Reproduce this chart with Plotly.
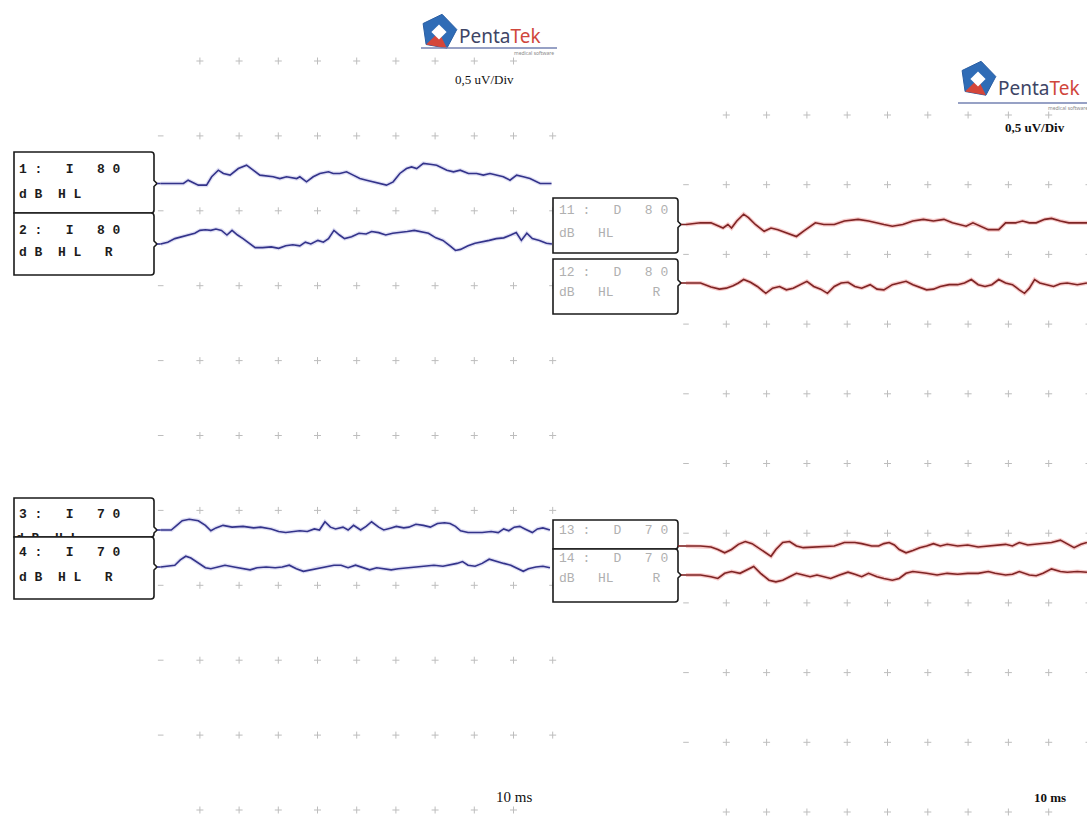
import math
import plotly.graph_objects as go

# ------------------------------------------------------------------
# DATA  (time in ms, amplitude in uV)
# ------------------------------------------------------------------
# Left ear (I) 80 dB HL
ch1_ms = [0, 0.58, 0.70, 0.96, 1.17, 1.30, 1.47, 1.60, 1.77, 1.98,
          2.19, 2.36, 2.53, 2.87, 3.04, 3.21, 3.47, 3.55, 3.72, 3.89,
          4.06, 4.28, 4.40, 4.57, 4.74, 4.91, 5.08, 5.25, 5.42, 5.59,
          5.76, 5.93, 6.10, 6.27, 6.40, 6.53, 6.70, 6.87, 7.04, 7.30,
          7.47, 7.64, 7.85, 8.06, 8.23, 8.40, 8.57, 8.74, 8.91, 9.08,
          9.25, 9.42, 9.68, 9.97]
ch1_uv = [0.000, 0.000, 0.022, -0.011, -0.011, 0.045, 0.089, 0.067, 0.056, 0.100,
          0.122, 0.089, 0.056, 0.045, 0.033, 0.045, 0.033, 0.045, 0.011, 0.045,
          0.067, 0.078, 0.067, 0.067, 0.078, 0.056, 0.033, 0.022, 0.011, 0.000,
          -0.011, 0.011, 0.067, 0.100, 0.111, 0.100, 0.134, 0.129, 0.122, 0.089,
          0.078, 0.089, 0.067, 0.067, 0.056, 0.067, 0.056, 0.045, 0.022, 0.056,
          0.045, 0.033, 0.000, 0.000]

ch2_ms = [0, 0.18, 0.36, 0.55, 0.73, 0.87, 1.00, 1.14, 1.28, 1.41,
          1.55, 1.69, 1.82, 1.96, 2.10, 2.28, 2.41, 2.60, 2.82, 3.01,
          3.19, 3.37, 3.55, 3.69, 3.83, 4.01, 4.15, 4.28, 4.42, 4.56,
          4.69, 4.87, 5.06, 5.24, 5.38, 5.56, 5.74, 5.92, 6.10, 6.29,
          6.47, 6.65, 6.83, 7.02, 7.20, 7.38, 7.52, 7.65, 7.84, 8.02,
          8.20, 8.38, 8.56, 8.75, 8.93, 9.07, 9.20, 9.34, 9.48, 9.66,
          9.84, 9.98]
ch2_uv = [0.000, 0.012, 0.036, 0.048, 0.060, 0.072, 0.091, 0.095, 0.091, 0.100,
          0.091, 0.060, 0.091, 0.060, 0.036, 0.000, -0.024, -0.024, -0.019, -0.029,
          -0.012, -0.005, -0.012, 0.012, 0.000, 0.024, 0.012, 0.036, 0.091, 0.060,
          0.036, 0.048, 0.072, 0.067, 0.083, 0.076, 0.060, 0.072, 0.076, 0.083,
          0.091, 0.083, 0.072, 0.041, 0.024, -0.012, -0.043, -0.036, -0.012, 0.005,
          0.012, 0.024, 0.036, 0.041, 0.060, 0.076, 0.024, 0.072, 0.036, 0.024,
          0.005, 0.000]

# Left ear (I) 70 dB HL
ch3_ms = [0, 0.27, 0.41, 0.55, 0.73, 0.96, 1.14, 1.28, 1.41, 1.59,
          1.82, 2.10, 2.37, 2.55, 2.82, 3.01, 3.19, 3.37, 3.55, 3.74,
          3.92, 4.05, 4.19, 4.33, 4.46, 4.65, 4.78, 4.92, 5.10, 5.24,
          5.38, 5.56, 5.69, 5.88, 6.01, 6.20, 6.33, 6.51, 6.70, 6.88,
          7.06, 7.24, 7.38, 7.52, 7.65, 7.84, 8.02, 8.20, 8.43, 8.61,
          8.75, 8.88, 9.02, 9.16, 9.29, 9.48, 9.61, 9.75, 9.93]
ch3_uv = [0.000, 0.000, 0.031, 0.062, 0.072, 0.062, 0.031, -0.005, 0.014, 0.031,
          0.019, 0.024, 0.014, 0.019, 0.007, -0.010, -0.017, -0.010, -0.005, -0.010,
          0.007, 0.000, 0.055, 0.019, 0.007, 0.019, 0.000, 0.031, 0.000, 0.024,
          0.055, 0.019, 0.000, 0.014, 0.024, 0.014, 0.019, 0.038, 0.031, 0.019,
          0.043, 0.048, 0.043, 0.024, -0.005, -0.017, -0.017, -0.017, -0.010, -0.017,
          0.007, -0.005, 0.019, 0.024, 0.007, -0.017, 0.007, 0.014, 0.000]

ch4_ms = [0, 0.36, 0.50, 0.64, 0.77, 0.96, 1.14, 1.28, 1.46, 1.64,
          1.87, 2.10, 2.28, 2.46, 2.69, 2.92, 3.10, 3.28, 3.46, 3.64,
          3.83, 4.01, 4.19, 4.42, 4.60, 4.78, 4.97, 5.15, 5.33, 5.51,
          5.69, 5.88, 6.06, 6.29, 6.51, 6.74, 6.97, 7.20, 7.38, 7.56,
          7.70, 7.84, 8.02, 8.20, 8.38, 8.56, 8.75, 8.93, 9.11, 9.25,
          9.38, 9.57, 9.75, 9.93]
ch4_uv = [0.000, 0.012, 0.048, 0.072, 0.060, 0.024, -0.005, -0.012, 0.000, 0.012,
          0.000, -0.012, -0.019, -0.005, 0.000, -0.005, 0.000, 0.012, -0.012, -0.029,
          -0.019, -0.005, 0.000, 0.012, 0.012, -0.005, 0.012, -0.005, -0.019, -0.005,
          -0.012, -0.019, -0.012, -0.005, 0.000, 0.005, 0.012, 0.005, 0.012, 0.024,
          0.036, 0.012, 0.005, 0.024, 0.052, 0.036, 0.024, 0.012, -0.012, -0.029,
          -0.012, 0.000, 0.005, -0.005]

# Right ear (D) 80 dB HL
ch11_ms = [0, 0.36, 0.62, 0.79, 0.92, 1.04, 1.13, 1.26, 1.43, 1.55,
           1.72, 1.94, 2.11, 2.28, 2.49, 2.74, 2.91, 3.08, 3.21, 3.42,
           3.68, 3.93, 4.27, 4.53, 4.70, 4.91, 5.12, 5.38, 5.63, 5.89,
           6.14, 6.40, 6.61, 6.82, 6.95, 7.12, 7.33, 7.50, 7.76, 7.93,
           8.18, 8.35, 8.52, 8.69, 8.90, 9.07, 9.29, 9.50, 9.71, 9.95]
ch11_uv = [0.000, 0.012, 0.012, -0.012, -0.025, 0.000, -0.025, 0.025, 0.074, 0.049,
           0.000, -0.049, -0.025, -0.037, -0.061, -0.086, -0.049, -0.012, 0.012, 0.000,
           0.000, 0.025, 0.037, 0.025, 0.012, 0.000, -0.012, 0.000, 0.025, 0.037,
           0.025, 0.037, 0.012, 0.000, -0.012, 0.012, -0.012, -0.037, -0.037, 0.012,
           0.012, 0.025, 0.012, 0.012, 0.037, 0.044, 0.025, 0.012, 0.012, 0.012]

ch12_ms = [0, 0.36, 0.62, 0.83, 1.00, 1.17, 1.30, 1.43, 1.60, 1.77,
           1.98, 2.15, 2.32, 2.49, 2.66, 2.83, 3.00, 3.17, 3.34, 3.51,
           3.68, 3.85, 4.02, 4.19, 4.36, 4.57, 4.74, 4.91, 5.12, 5.29,
           5.46, 5.63, 5.80, 5.97, 6.14, 6.31, 6.53, 6.74, 6.91, 7.08,
           7.25, 7.42, 7.59, 7.76, 7.93, 8.10, 8.27, 8.40, 8.52, 8.65,
           8.78, 8.95, 9.12, 9.29, 9.46, 9.71, 9.95]
ch12_uv = [0.000, 0.000, -0.029, -0.044, -0.037, -0.020, 0.000, 0.025, 0.005, -0.025,
           -0.074, -0.037, -0.025, -0.049, -0.037, -0.012, 0.012, -0.025, -0.044, -0.074,
           -0.025, 0.000, 0.005, -0.025, -0.037, -0.012, -0.044, -0.049, -0.012, 0.000,
           0.012, -0.012, -0.029, -0.049, -0.044, -0.025, -0.012, -0.012, 0.000, 0.025,
           -0.012, -0.025, -0.012, 0.025, 0.000, -0.012, -0.049, -0.074, -0.037, 0.025,
           0.000, -0.012, -0.025, -0.005, 0.000, -0.012, 0.000]

# Right ear (D) 70 dB HL
ch13_ms = [0, 0.36, 0.62, 0.79, 0.96, 1.13, 1.30, 1.47, 1.64, 1.81,
           1.98, 2.11, 2.23, 2.40, 2.57, 2.74, 2.91, 3.17, 3.42, 3.68,
           3.93, 4.19, 4.36, 4.61, 4.78, 4.91, 5.04, 5.17, 5.29, 5.46,
           5.63, 5.80, 5.97, 6.14, 6.31, 6.48, 6.74, 6.99, 7.25, 7.50,
           7.67, 7.93, 8.10, 8.27, 8.48, 8.69, 8.86, 9.07, 9.29, 9.46,
           9.63, 9.80, 9.95]
ch13_uv = [0.000, 0.000, -0.007, -0.025, -0.049, -0.025, 0.012, 0.032, 0.017, -0.017,
           -0.049, -0.074, -0.025, 0.025, 0.032, 0.000, -0.012, -0.007, 0.000, 0.000,
           0.025, 0.025, 0.017, 0.000, 0.000, 0.017, 0.025, 0.007, -0.025, -0.049,
           -0.032, -0.012, 0.000, 0.017, 0.000, 0.012, 0.000, 0.007, -0.007, 0.000,
           0.007, 0.012, 0.000, 0.025, 0.007, 0.012, 0.017, 0.025, 0.042, 0.017,
           -0.012, 0.012, 0.025]

ch14_ms = [0, 0.36, 0.62, 0.79, 0.96, 1.13, 1.34, 1.51, 1.68, 1.85,
           2.06, 2.23, 2.40, 2.57, 2.74, 2.91, 3.08, 3.25, 3.42, 3.59,
           3.81, 4.02, 4.19, 4.36, 4.53, 4.74, 4.91, 5.12, 5.29, 5.46,
           5.63, 5.80, 5.97, 6.23, 6.48, 6.74, 6.99, 7.25, 7.50, 7.67,
           7.93, 8.10, 8.27, 8.52, 8.69, 8.86, 9.07, 9.29, 9.46, 9.71,
           9.95]
ch14_uv = [0.000, 0.000, -0.012, -0.025, 0.012, 0.025, 0.012, 0.037, 0.061, 0.012,
           -0.037, -0.049, -0.037, -0.012, 0.012, 0.000, -0.012, 0.000, -0.012, -0.025,
           0.000, 0.020, 0.005, -0.012, 0.012, -0.012, -0.025, -0.037, -0.025, 0.012,
           0.025, 0.020, 0.012, 0.000, 0.012, 0.005, 0.012, 0.012, 0.025, 0.012,
           0.000, 0.005, 0.025, 0.000, -0.005, 0.012, 0.044, 0.025, 0.020, 0.025,
           0.020]

# Channel labels (two lines each)
ch1_label = ["1 :   I   8 0", "d B  H L"]
ch2_label = ["2 :   I   8 0", "d B  H L   R"]
ch3_label = ["3 :   I   7 0", "d B  H L"]
ch4_label = ["4 :   I   7 0", "d B  H L   R"]
ch11_label = ["11 :   D   8 0", "dB   HL"]
ch12_label = ["12 :   D   8 0", "dB   HL     R"]
ch13_label = ["13 :   D   7 0", "dB   HL"]
ch14_label = ["14 :   D   7 0", "dB   HL     R"]

scale_label = "0,5 uV/Div"
time_label = "10 ms"
logo_name = ("Penta", "Tek")
logo_sub = "medical software"

grid_ms = list(range(0, 11))      # 1 ms per horizontal division
grid_div = list(range(0, 11))     # vertical divisions
UV_PER_DIV = 0.5

# ------------------------------------------------------------------
# LAYOUT GEOMETRY (pixels of the 1087x817 page)
# ------------------------------------------------------------------
W, H = 1087, 817
L = dict(x0=160.7, ppm=39.2, top=61.0, ppd=74.9)     # left panel
R = dict(x0=686.0, ppm=40.3, top=115.0, ppd=69.7)    # right panel


def x_range(p):
    return [(0 - p["x0"]) / p["ppm"], (W - p["x0"]) / p["ppm"]]


def y_range(p):
    return [-(H - p["top"]) / p["ppd"] * UV_PER_DIV, p["top"] / p["ppd"] * UV_PER_DIV]


def base_uv(p, px):
    return (p["top"] - px) / p["ppd"] * UV_PER_DIV


def nb(s):
    return s.replace(" ", "\u00a0")


LEFT_LINE = "#33338a"
LEFT_HALO = "rgba(140,140,215,0.28)"
RIGHT_LINE = "#7e2424"
RIGHT_HALO = "rgba(235,120,120,0.40)"
GRID_COL = "#bdbdbd"

channels = [
    dict(lab=ch1_label, t=ch1_ms, v=ch1_uv, p=L, ax=("x", "y"), base=183.5,
         box=(14, 152, 154, 213), ty=(169, 194), tx=17, side="L"),
    dict(lab=ch2_label, t=ch2_ms, v=ch2_uv, p=L, ax=("x", "y"), base=244,
         box=(14, 213, 154, 275), ty=(230, 252), tx=17, side="L"),
    dict(lab=ch3_label, t=ch3_ms, v=ch3_uv, p=L, ax=("x", "y"), base=530,
         box=(14, 498, 154, 537), ty=(514, None), tx=17, side="L"),
    dict(lab=ch4_label, t=ch4_ms, v=ch4_uv, p=L, ax=("x", "y"), base=567,
         box=(14, 537, 154, 599), ty=(552, 577), tx=17, side="L"),
    dict(lab=ch11_label, t=ch11_ms, v=ch11_uv, p=R, ax=("x2", "y2"), base=224.5,
         box=(553, 198, 678, 253), ty=(210, 233), tx=557, side="R"),
    dict(lab=ch12_label, t=ch12_ms, v=ch12_uv, p=R, ax=("x2", "y2"), base=283,
         box=(553, 259, 678, 314), ty=(272, 292), tx=557, side="R"),
    dict(lab=ch13_label, t=ch13_ms, v=ch13_uv, p=R, ax=("x2", "y2"), base=546,
         box=(553, 520, 678, 549), ty=(530, None), tx=557, side="R"),
    dict(lab=ch14_label, t=ch14_ms, v=ch14_uv, p=R, ax=("x2", "y2"), base=575,
         box=(553, 549, 678, 602), ty=(558, 578), tx=557, side="R"),
]

fig = go.Figure()

# ---------------- grid markers ----------------
for p, (xa, ya) in ((L, ("x", "y")), (R, ("x2", "y2"))):
    gx, gy, ex, ey = [], [], [], []
    for r in grid_div:
        for c in grid_ms:
            if r in (grid_div[0], grid_div[-1]) and c in (grid_ms[0], grid_ms[-1]):
                continue
            y = -r * UV_PER_DIV
            if c == grid_ms[0]:
                ex.append(c); ey.append(y)
            else:
                gx.append(c); gy.append(y)
    fig.add_trace(go.Scatter(x=gx, y=gy, mode="markers", xaxis=xa, yaxis=ya,
                             marker=dict(symbol="cross-thin", size=5,
                                         line=dict(width=1, color=GRID_COL)),
                             hoverinfo="skip", showlegend=False))
    fig.add_trace(go.Scatter(x=ex, y=ey, mode="markers", xaxis=xa, yaxis=ya,
                             marker=dict(symbol="line-ew", size=4,
                                         line=dict(width=1, color=GRID_COL)),
                             hoverinfo="skip", showlegend=False))

# ---------------- waveforms ----------------
for ch in channels:
    off = base_uv(ch["p"], ch["base"])
    yy = [off + v for v in ch["v"]]
    halo, line = (LEFT_HALO, LEFT_LINE) if ch["side"] == "L" else (RIGHT_HALO, RIGHT_LINE)
    fig.add_trace(go.Scatter(x=ch["t"], y=yy, mode="lines", xaxis=ch["ax"][0], yaxis=ch["ax"][1],
                             line=dict(color=halo, width=4), hoverinfo="skip", showlegend=False))
    fig.add_trace(go.Scatter(x=ch["t"], y=yy, mode="lines", xaxis=ch["ax"][0], yaxis=ch["ax"][1],
                             line=dict(color=line, width=1.6), hoverinfo="skip", showlegend=False))

# ---------------- label boxes ----------------
shapes = []
annotations = []


def box_path(x0, y0, x1, y1, ym):
    c = 3
    if y0 + 5 < ym < y1 - 5:
        right = f"V{ym - 3} L{x1 + 3},{ym} L{x1},{ym + 3} V{y1 - c} "
    else:
        right = f"V{y1 - c} "
    return (f"M{x0},{y0} H{x1 - c} Q{x1},{y0} {x1},{y0 + c} " + right +
            f"Q{x1},{y1} {x1 - c},{y1} H{x0} Z")


for ch in channels:
    x0, y0, x1, y1 = ch["box"]
    ym = ch["base"]
    shapes.append(dict(type="path", xref="x3", yref="y3", layer="below",
                       path=box_path(x0, y0, x1, y1, ym),
                       fillcolor="white", line=dict(color="#1a1a1a", width=1.6)))
    tip = x1 + 3 if y0 + 5 < ym < y1 - 5 else x1
    shapes.append(dict(type="path", xref="x3", yref="y3", layer="below",
                       path=f"M{tip},{ym} H{ch['p']['x0']}",
                       line=dict(color=LEFT_LINE if ch["side"] == "L" else RIGHT_LINE, width=1.6)))
    col = "#1c1c1c" if ch["side"] == "L" else "#b0b0b0"
    wt = "bold" if ch["side"] == "L" else "normal"
    for line_txt, yy in zip(ch["lab"], ch["ty"]):
        if yy is None:
            continue
        annotations.append(dict(x=ch["tx"], y=yy, xref="x3", yref="y3", text=nb(line_txt),
                                showarrow=False, xanchor="left", yanchor="middle",
                                font=dict(family="Liberation Mono", size=13, color=col, weight=wt)))

# hidden (overlapped) second line of box 3 -> clipped text trace
fig.add_trace(go.Scatter(x=[16], y=[539], mode="text", text=[nb(ch3_label[1])],
                         textposition="middle right", xaxis="x4", yaxis="y4", cliponaxis=True,
                         textfont=dict(family="Liberation Mono", size=13, color="#1c1c1c", weight="bold"),
                         hoverinfo="skip", showlegend=False))


# ---------------- logos ----------------
def logo(cx, cy, r):
    pts = [(cx + r * math.cos(math.radians(-90 + 72 * i + 10)),
            cy + r * math.sin(math.radians(-90 + 72 * i + 10))) for i in range(5)]
    poly = "M" + " L".join(f"{x:.1f},{y:.1f}" for x, y in pts) + " Z"
    red = f"M{cx:.1f},{cy:.1f} L{pts[2][0]:.1f},{pts[2][1]:.1f} L{pts[3][0]:.1f},{pts[3][1]:.1f} Z"
    s = r * 0.42
    dia = (f"M{cx:.1f},{cy - s:.1f} L{cx + s:.1f},{cy:.1f} "
           f"L{cx:.1f},{cy + s:.1f} L{cx - s:.1f},{cy:.1f} Z")
    return [
        dict(type="path", xref="x3", yref="y3", layer="below", path=poly,
             fillcolor="#2f6cb6", line=dict(color="#2a5ea3", width=1)),
        dict(type="path", xref="x3", yref="y3", layer="below", path=red,
             fillcolor="#d4463a", line=dict(width=0)),
        dict(type="path", xref="x3", yref="y3", layer="below", path=dia,
             fillcolor="white", line=dict(width=0)),
    ]


logo_html = (f"<span style='color:#3e4566'>{logo_name[0]}</span>"
             f"<span style='color:#d0463c'>{logo_name[1]}</span>")

for (cx, cy, tx, ty, lx0, lx1, ly, sx, sy, scx, scy, bold) in (
        (439, 32, 457, 36, 421, 557, 48, 534, 53, 453, 79, False),
        (978, 79, 996, 88, 958, 1087, 103, 1068, 108, 1003, 127, True)):
    shapes.extend(logo(cx, cy, 18))
    shapes.append(dict(type="line", xref="x3", yref="y3", layer="below",
                       x0=lx0, x1=lx1, y0=ly, y1=ly, line=dict(color="#7482b2", width=1.5)))
    annotations.append(dict(x=tx, y=ty, xref="x3", yref="y3", text=logo_html, showarrow=False,
                            xanchor="left", yanchor="middle",
                            font=dict(family="Noto Sans", size=19)))
    annotations.append(dict(x=sx, y=sy, xref="x3", yref="y3", text=logo_sub, showarrow=False,
                            xanchor="center", yanchor="middle",
                            font=dict(family="Noto Sans", size=5, color="#8a8a8a")))
    annotations.append(dict(x=scx, y=scy, xref="x3", yref="y3", text=scale_label, showarrow=False,
                            xanchor="left", yanchor="middle",
                            font=dict(family="Liberation Serif", size=13, color="#111111",
                                      weight="bold" if bold else "normal")))

# time scale labels
annotations.append(dict(x=494, y=797, xref="x3", yref="y3", text=time_label, showarrow=False,
                        xanchor="left", yanchor="middle",
                        font=dict(family="Liberation Serif", size=15, color="#111111")))
annotations.append(dict(x=1032, y=797, xref="x3", yref="y3", text=time_label, showarrow=False,
                        xanchor="left", yanchor="middle",
                        font=dict(family="Liberation Serif", size=13, color="#111111", weight="bold")))

hidden = dict(visible=False, showgrid=False, zeroline=False, fixedrange=True)
fig.update_layout(
    width=W, height=H, margin=dict(l=0, r=0, t=0, b=0),
    paper_bgcolor="white", plot_bgcolor="rgba(0,0,0,0)", showlegend=False,
    xaxis=dict(hidden, domain=[0, 1], range=x_range(L)),
    yaxis=dict(hidden, domain=[0, 1], range=y_range(L)),
    xaxis2=dict(hidden, domain=[0, 1], range=x_range(R), anchor="y2"),
    yaxis2=dict(hidden, domain=[0, 1], range=y_range(R), anchor="x2"),
    xaxis3=dict(hidden, domain=[0, 1], range=[0, W], anchor="y3"),
    yaxis3=dict(hidden, domain=[0, 1], range=[H, 0], anchor="x3"),
    xaxis4=dict(hidden, domain=[0, 1], range=[0, W], anchor="y4"),
    yaxis4=dict(hidden, domain=[(H - 537) / H, (H - 499) / H], range=[537, 499], anchor="x4"),
    shapes=shapes, annotations=annotations,
)

# a dummy invisible trace so the pixel overlay subplot exists
fig.add_trace(go.Scatter(x=[0], y=[0], xaxis="x3", yaxis="y3", mode="markers",
                         marker=dict(size=1, opacity=0), hoverinfo="skip", showlegend=False))

fig.write_html("out.html", config={"displayModeBar": False},
               post_script="document.body.style.margin='0';")
